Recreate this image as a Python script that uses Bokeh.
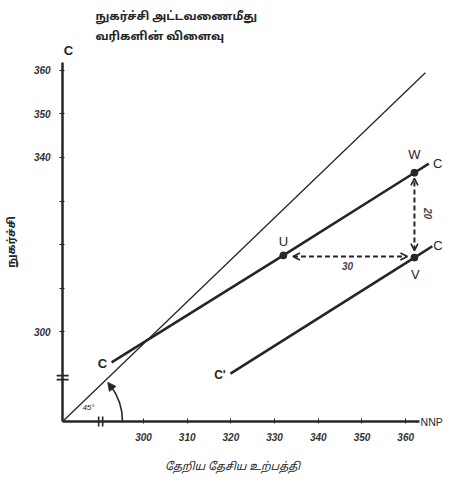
import numpy as np
from bokeh.plotting import figure
from bokeh.models import Range1d, FixedTicker, Arrow, OpenHead, NormalHead, Label
from bokeh.core.properties import value
from bokeh.embed import file_html
from bokeh.resources import INLINE

# ---------------- data ----------------
title_lines = ["நுகர்ச்சி அட்டவணைமீது", "வரிகளின் விளைவு"]
x_label = "தேறிய தேசிய உற்பத்தி"
y_label = "நுகர்ச்சி"

nnp_ticks = [300, 310, 320, 330, 340, 350, 360]
nnp_tick_labels = ["300", "310", "320", "330", "340", "350", "360"]
cons_ticks = [300, 310, 320, 330, 340, 350, 360]
cons_tick_labels = ["300", "", "", "", "340", "350", "360"]

origin_x, origin_y = 281.5, 279.3          # where the (broken) axes meet
x_axis_end, y_axis_end = 363.2, 361.8

line45_x = [281.5, 364.5]
line45_y = [279.3, 359.5]

c_upper_x = [292.7, 332.0, 362.0, 365.3]   # consumption schedule before tax
c_upper_y = [292.9, 317.5, 336.5, 338.6]
c_lower_x = [319.9, 362.0, 366.1]          # consumption schedule after tax
c_lower_y = [290.3, 317.0, 319.6]

pt_names = ["U", "V", "W"]
pt_x = [332.0, 362.0, 362.0]
pt_y = [317.5, 317.0, 336.5]

shift_horizontal = 30   # U -> V
shift_vertical = 20     # V -> W

break_x = 290.2   # break mark on NNP axis
break_y = 289.4   # break mark on consumption axis

arc_radius = 13.7
arc_end_deg = 41

# ---------------- figure ----------------
W, H = 444, 475
X0, X1 = 267.28, 368.88
Y0, Y1 = 266.90, 376.09
p = figure(width=W, height=H, output_backend="svg", toolbar_location=None,
           x_range=Range1d(X0, X1), y_range=Range1d(Y0, Y1),
           min_border=0, outline_line_color=None, background_fill_color="white")
p.grid.visible = False

INK = "#262626"
TAMIL = "Noto Sans Tamil, Lohit Tamil, Latha, sans-serif"
NUMF = "Liberation Sans"

xa = p.xaxis[0]
xa.fixed_location = origin_y
xa.bounds = (origin_x, x_axis_end)
xa.ticker = FixedTicker(ticks=nnp_ticks)
xa.major_label_overrides = {t: l for t, l in zip(nnp_ticks, nnp_tick_labels)}
xa.minor_tick_line_color = None
xa.axis_line_width = 2.5
xa.axis_line_color = INK
xa.major_tick_line_color = INK
xa.major_tick_in = 3
xa.major_tick_out = 2
xa.major_label_standoff = 9
xa.major_label_text_font = NUMF
xa.major_label_text_font_style = "bold italic"
xa.major_label_text_font_size = "10px"
xa.major_label_text_color = "#333333"

ya = p.yaxis[0]
ya.fixed_location = origin_x
ya.bounds = (origin_y, y_axis_end)
ya.ticker = FixedTicker(ticks=cons_ticks)
ya.major_label_overrides = {t: l for t, l in zip(cons_ticks, cons_tick_labels)}
ya.minor_tick_line_color = None
ya.axis_line_width = 2.5
ya.axis_line_color = INK
ya.major_tick_line_color = INK
ya.major_tick_in = 2
ya.major_tick_out = 3
ya.major_label_standoff = 9
ya.major_label_text_font = NUMF
ya.major_label_text_font_style = "bold italic"
ya.major_label_text_font_size = "10px"
ya.major_label_text_color = "#333333"

# axis break marks
px_per_x = W / (X1 - X0)
px_per_y = H / (Y1 - Y0)
bx = [break_x - 2 / px_per_x, break_x + 2 / px_per_x]
p.segment(x0=bx, x1=bx, y0=[origin_y - 5 / px_per_y] * 2, y1=[origin_y + 5 / px_per_y] * 2,
          line_color=INK, line_width=1.6)
by = [break_y - 2 / px_per_y, break_y + 2 / px_per_y]
p.segment(x0=[origin_x - 6 / px_per_x] * 2, x1=[origin_x + 6 / px_per_x] * 2, y0=by, y1=by,
          line_color=INK, line_width=1.6)

# 45 degree line
p.line(line45_x, line45_y, line_color=INK, line_width=1.3)

# consumption schedules
p.line(c_upper_x, c_upper_y, line_color=INK, line_width=2.6)
p.line(c_lower_x, c_lower_y, line_color=INK, line_width=2.6)

# points
p.scatter(pt_x, pt_y, size=7, color=INK)

# dashed arrows
ux, uy = pt_x[0], pt_y[0]
vx, vy = pt_x[1], pt_y[1]
wx, wy = pt_x[2], pt_y[2]
hy = (uy + vy) / 2
p.add_layout(Arrow(x_start=ux + 2.2, y_start=hy, x_end=ux + shift_horizontal - 1.6, y_end=hy,
                   line_dash="5 3", line_width=2, line_color=INK,
                   start=OpenHead(size=7, line_width=1.6, line_color=INK),
                   end=OpenHead(size=7, line_width=1.6, line_color=INK)))
p.add_layout(Arrow(x_start=vx, y_start=vy + 1.6, x_end=vx, y_end=vy + shift_vertical - 1.8,
                   line_dash="5 3", line_width=2, line_color=INK,
                   start=OpenHead(size=7, line_width=1.6, line_color=INK),
                   end=OpenHead(size=7, line_width=1.6, line_color=INK)))

# 45 degree arc with arrow
p.arc(x=[origin_x], y=[origin_y], radius=arc_radius, start_angle=0,
      end_angle=np.deg2rad(arc_end_deg - 4), line_color=INK, line_width=1.6)
a0, a1 = np.deg2rad(arc_end_deg - 8), np.deg2rad(arc_end_deg)
p.add_layout(Arrow(x_start=origin_x + arc_radius * np.cos(a0), y_start=origin_y + arc_radius * np.sin(a0),
                   x_end=origin_x + arc_radius * np.cos(a1), y_end=origin_y + arc_radius * np.sin(a1),
                   line_width=1.6, line_color=INK,
                   end=NormalHead(size=8, fill_color=INK, line_color=INK)))

def lab(x, y, text, size="13px", font="Liberation Sans", style="normal", align="center",
        baseline="middle", angle=0, color=INK):
    p.add_layout(Label(x=x, y=y, text=text, text_font_size=size, text_font=font,
                       text_font_style=style, text_align=align, text_baseline=baseline,
                       angle=angle, text_color=color))

# titles / axis names
lab(289.0, 372.3, title_lines[0], size="11.5px", font=TAMIL, style="bold", align="left")
lab(289.0, 367.6, title_lines[1], size="11.5px", font=TAMIL, style="bold", align="left")
lab(320.4, 268.9, x_label, size="11px", font=TAMIL, style="italic")
lab(269.9, 320.6, y_label, size="11px", font=TAMIL, style="bold", angle=np.pi / 2)
lab(x_axis_end + 0.2, origin_y, "NNP", size="10.5px", align="left")
lab(282.8, 364.6, "C", size="13px", style="bold")

# curve / point labels
lab(pt_x[0], pt_y[0] + 3.3, pt_names[0], size="13px")
lab(pt_x[1] + 0.2, pt_y[1] - 3.8, pt_names[1], size="13px")
lab(pt_x[2], pt_y[2] + 4.2, pt_names[2], size="13px")
lab(367.3, 338.6, "C", size="13px")
lab(367.4, 319.8, "C", size="13px")
lab(290.6, 292.6, "C", size="13px", style="bold")
lab(317.5, 289.9, "C'", size="12px", style="bold")
lab(287.4, 282.5, "45°", size="8px", style="italic")
lab(346.7, 315.0, str(shift_horizontal), size="10px", font=NUMF, style="bold italic", color="#444444")
lab(365.2, 327.1, str(shift_vertical), size="10px", font=NUMF, style="bold italic",
    angle=-np.pi / 2, color="#444444")

open("out.html", "w").write(file_html(p, INLINE))
